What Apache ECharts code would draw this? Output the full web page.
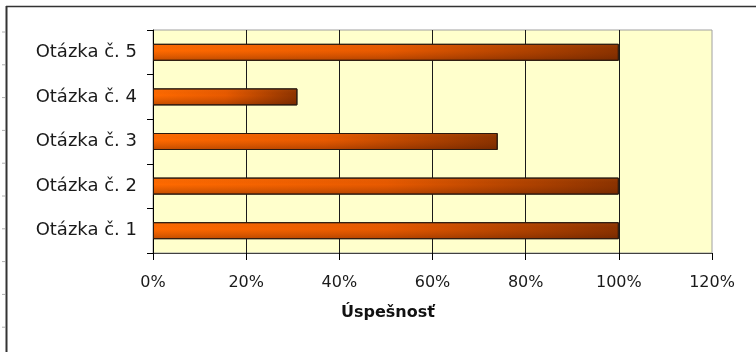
<!DOCTYPE html>
<html>
<head>
<meta charset="utf-8">
<script src="https://cdn.jsdelivr.net/npm/echarts@6/dist/echarts.min.js"></script>
<style>
  html, body { margin: 0; padding: 0; background: #fff; }
  #chart { width: 756px; height: 352px; }
</style>
</head>
<body>
<div id="chart"></div>
<script>
// Questions (bottom to top) and their success rate in percent
const questions = ['Otázka č. 1', 'Otázka č. 2', 'Otázka č. 3', 'Otázka č. 4', 'Otázka č. 5'];
const successRate = [100, 100, 74, 31, 100];
const axisTitle = 'Úspešnosť';
const axisMax = 120;
const axisStep = 20;

const chart = echarts.init(document.getElementById('chart'), null, { renderer: 'canvas' });

// little decorative ticks on the outer frame
const frameMarks = [];
for (let i = 0; i < 10; i++) {
  const y = 32 + i * 32.8;
  frameMarks.push({ type: 'line', shape: { x1: 2, y1: y, x2: 5, y2: y }, style: { stroke: '#b0b0b0', lineWidth: 1 }, silent: true });
}

const barBorder = '#2a1a10';

chart.setOption({
  animation: false,
  backgroundColor: '#ffffff',
  grid: {
    left: 153, right: 44, top: 30, bottom: 99,
    show: true,
    backgroundColor: '#FFFFCC',
    borderColor: '#a0a0a0',
    borderWidth: 1,
    containLabel: false
  },
  xAxis: {
    type: 'value',
    min: 0,
    max: axisMax,
    interval: axisStep,
    axisLine: { show: true, lineStyle: { color: '#404040', width: 1 } },
    axisTick: { show: true, inside: false, length: 7, lineStyle: { color: '#000', width: 1 } },
    axisLabel: {
      formatter: v => v + '%',
      fontFamily: 'DejaVu Sans',
      fontSize: 16,
      color: '#1a1a1a',
      margin: 22
    },
    splitLine: { show: true, showMaxLine: false, lineStyle: { color: '#1a1a1a', width: 1 } }
  },
  yAxis: {
    type: 'category',
    data: questions,
    axisLine: { show: true, lineStyle: { color: '#000', width: 1 } },
    axisTick: { show: true, inside: false, length: 6, lineStyle: { color: '#000', width: 1 } },
    axisLabel: {
      fontFamily: 'DejaVu Sans',
      fontSize: 18,
      color: '#1a1a1a',
      margin: 16
    },
    splitLine: { show: false }
  },
  series: [
    {
      // main bars: orange fading to brown along the bar
      type: 'bar',
      data: successRate,
      barWidth: 17,
      itemStyle: {
        color: new echarts.graphic.LinearGradient(0, 0, 1, 1, [
          { offset: 0, color: '#FF6A00' },
          { offset: 0.5, color: '#E85A00' },
          { offset: 1, color: '#8A3200' }
        ]),
        borderColor: barBorder,
        borderWidth: 1
      }
    },
    {
      // vertical shading laid over the same bars
      type: 'bar',
      data: successRate,
      barWidth: 17,
      barGap: '-100%',
      silent: true,
      itemStyle: {
        color: new echarts.graphic.LinearGradient(0, 0, 0, 1, [
          { offset: 0, color: 'rgba(255,140,40,0.15)' },
          { offset: 0.4, color: 'rgba(120,40,0,0)' },
          { offset: 1, color: 'rgba(70,20,0,0.35)' }
        ]),
        borderColor: barBorder,
        borderWidth: 1
      }
    }
  ],
  graphic: [
    { type: 'line', shape: { x1: 6, y1: 6.5, x2: 756, y2: 6.5 }, style: { stroke: '#333', lineWidth: 1.5 }, silent: true },
    { type: 'line', shape: { x1: 6.5, y1: 6, x2: 6.5, y2: 352 }, style: { stroke: '#333', lineWidth: 2 }, silent: true },
    ...frameMarks,
    {
      type: 'text',
      left: 341,
      top: 305,
      style: {
        text: axisTitle,
        font: 'bold 16px "DejaVu Sans"',
        fill: '#111'
      },
      silent: true
    }
  ]
});
</script>
</body>
</html>
